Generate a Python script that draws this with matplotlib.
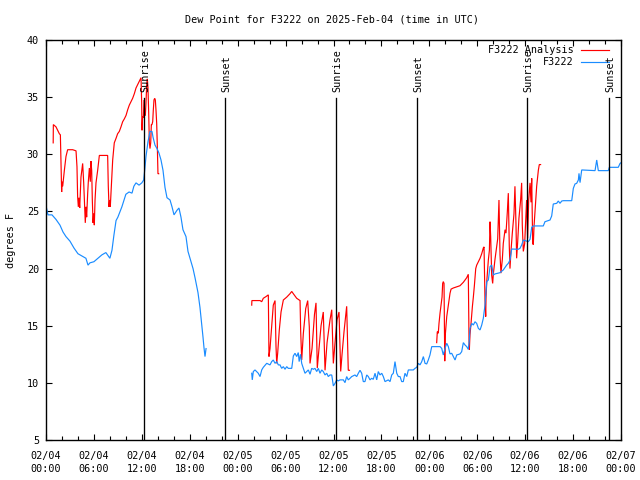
import numpy as np
import matplotlib
matplotlib.use("Agg")
import matplotlib.pyplot as plt
from matplotlib.lines import Line2D

# ---------------- data (hours since 02/04 00:00 UTC, degrees F) ----------------
obs1_h = [0.0, 0.25, 0.75, 1.25, 1.75, 2.13, 2.5, 3.0, 3.5, 4.0, 4.5, 5.0, 5.26, 5.5, 6.0, 6.5,
          7.0, 7.5, 8.0, 8.26, 8.5, 8.77, 9.0, 9.27, 9.5, 9.77, 10.0, 10.4, 10.77, 11.0, 11.27,
          11.65, 12.0, 12.23, 12.36, 12.52, 12.77, 13.02, 13.27, 13.4, 13.65, 13.9, 14.15, 14.4,
          14.65, 14.9, 15.15, 15.53, 15.78, 16.03, 16.4, 16.65, 16.9, 17.15, 17.53, 17.78, 18.03,
          18.41, 18.66, 19.03, 19.28, 19.53, 19.66, 19.78, 19.91, 20.04]
obs1_v = [25.5, 24.7, 24.7, 24.3, 23.8, 23.2, 22.8, 22.4, 21.8, 21.3, 21.1, 20.9, 20.3, 20.5, 20.6, 20.9,
          21.2, 21.4, 20.9, 21.6, 22.9, 24.2, 24.5, 25.0, 25.4, 26.0, 26.5, 26.7, 26.6, 27.2, 27.5,
          27.3, 27.5, 27.75, 28.6, 29.8, 31.1, 32.0, 32.0, 31.5, 30.8, 30.5, 30.1, 29.5,
          28.6, 27.1, 26.2, 26.0, 25.4, 24.7, 25.1, 25.3, 24.5, 23.4, 22.8, 21.5, 20.9,
          20.0, 19.2, 17.9, 16.6, 14.9, 14.0, 13.1, 12.3, 13.0]

obs2_h = [25.76, 25.83, 25.96, 26.17, 26.58, 26.80, 27.01, 27.21, 27.64, 28.05, 28.26, 28.46, 28.68,
          28.89, 29.09, 29.30, 29.51, 29.72, 29.93, 30.14, 30.34, 30.77, 30.97, 31.18, 31.39, 31.59,
          31.70, 31.87, 32.02, 32.22, 32.43, 32.64, 32.85, 33.06, 33.27, 33.47, 33.68, 33.90, 34.10,
          34.31, 34.52, 34.72, 34.94, 35.15, 35.35, 35.56, 35.78, 35.98, 36.19, 36.40, 36.60, 36.81,
          37.23, 37.44, 37.65, 37.85, 38.07, 38.28, 38.69, 38.90, 39.11, 39.32, 39.53, 39.73, 39.94,
          40.16, 40.36, 40.57, 40.78, 40.98, 41.20, 41.41, 41.61, 41.82, 42.04, 42.24, 42.45, 42.86,
          43.08, 43.29, 43.49, 43.70, 43.92, 44.12, 44.33, 44.54, 44.74, 44.95, 45.17, 45.37, 45.99,
          46.21, 46.42, 46.62, 46.83, 47.05, 47.25, 47.46, 47.67, 47.87, 48.08, 48.30, 49.34, 49.55,
          49.75, 49.96, 50.18, 50.38, 50.59, 50.80, 51.00, 51.22, 51.43, 51.84, 52.05, 52.26, 52.47,
          52.68, 52.88, 53.01, 53.09, 53.31, 53.51, 53.72, 53.93, 54.14, 54.35, 54.56, 54.76, 54.97,
          55.19, 55.39, 55.60, 55.81, 56.01, 56.22, 56.85, 57.26, 57.69, 57.89, 58.10, 58.31, 59.14,
          59.35, 59.56, 59.77, 60.39, 60.61, 60.82, 61.02, 62.27, 62.48, 63.11, 63.32, 63.52, 63.95,
          64.15, 64.36, 64.58, 64.78, 65.83, 66.03, 66.24, 66.45, 66.66, 66.74, 66.87, 67.08, 68.75,
          68.96, 69.16, 70.41, 70.54, 71.66, 71.88, 72.0]
obs2_v = [10.84, 10.26, 10.99, 11.13, 10.84, 10.55, 11.13, 11.36, 11.71, 11.57, 11.86, 12.0, 11.71,
          11.86, 11.57, 11.57, 11.27, 11.42, 11.19, 11.42, 11.27, 11.27, 12.35, 12.59, 12.3, 12.65,
          11.86, 12.5, 11.7, 11.27, 10.84, 10.99, 11.13, 10.75, 11.27, 11.19, 11.27, 10.99, 11.27,
          10.84, 11.13, 10.99, 10.69, 10.84, 10.55, 10.69, 10.69, 9.73, 9.96, 10.26, 10.17, 10.26,
          10.26, 10.02, 10.55, 10.26, 10.4, 10.55, 10.69, 10.55, 10.84, 11.1, 10.84, 10.11, 10.11,
          10.69, 10.55, 10.26, 10.40, 10.31, 10.84, 10.26, 10.99, 10.69, 10.84, 10.55, 10.11, 10.26,
          10.11, 10.69, 10.84, 11.86, 10.84, 10.55, 10.55, 10.11, 10.11, 10.84, 10.55, 11.13, 11.13,
          11.27, 11.36, 11.71, 11.57, 11.86, 12.3, 11.71, 11.65, 12.0, 12.44, 13.17, 13.17, 13.02,
          12.44, 13.02, 13.46, 13.17, 12.53, 12.59, 12.3, 12.0, 12.44, 12.53, 12.73, 13.52, 13.31,
          13.17, 12.93, 13.75, 14.77, 15.2, 15.06, 15.35, 15.2, 14.77, 14.63, 15.06, 15.65, 16.81,
          18.86, 19.0, 20.17, 20.31, 19.44, 19.53, 19.64, 19.88, 20.31, 20.46, 20.75, 21.71, 21.69,
          21.77, 22.06, 22.5, 22.35, 22.56, 23.61, 23.73, 23.73, 24.1, 24.25, 24.6, 25.65, 25.71,
          25.91, 25.71, 25.91, 25.94, 25.94, 27.02, 27.4, 27.46, 27.75, 28.33, 27.52, 28.63, 28.57,
          29.5, 28.57, 28.57, 28.86, 28.86, 29.2, 29.26]

ana1_h = [0.90, 0.92, 1.25, 1.67, 1.80, 1.88, 1.96, 2.0, 2.09, 2.30, 2.50, 2.71, 3.34, 3.76, 3.88,
          3.96, 4.05, 4.13, 4.22, 4.30, 4.38, 4.59, 4.72, 4.80, 4.92, 5.01, 5.09, 5.22, 5.30, 5.43,
          5.55, 5.63, 5.72, 5.80, 5.89, 5.97, 6.05, 6.14, 6.26, 6.47, 6.68, 7.72, 7.80, 7.89, 7.97,
          8.05, 8.18, 8.35, 8.55, 8.77, 8.97, 9.18, 9.39, 9.60, 9.81, 10.02, 10.23, 10.43, 10.64,
          10.85, 11.06, 11.27, 11.48, 11.69, 11.90, 11.98, 12.02, 12.10, 12.19, 12.27, 12.36, 12.44,
          12.52, 12.61, 12.69, 12.77, 12.86, 12.94, 13.02, 13.11, 13.19, 13.27, 13.36, 13.44, 13.52,
          13.61, 13.69, 13.77, 13.86, 13.94, 14.02, 14.11]
ana1_v = [31.0, 32.6, 32.4, 31.8, 31.7, 29.2, 26.7, 27.6, 27.2, 28.6, 29.8, 30.4, 30.4, 30.3, 28.9,
          26.3, 25.4, 26.2, 25.3, 26.6, 28.0, 29.2, 27.5, 26.0, 24.0, 25.4, 24.5, 26.6, 27.6, 28.8,
          27.6, 29.4, 28.6, 26.0, 24.0, 24.8, 23.8, 26.0, 27.5, 28.6, 29.9, 29.9, 27.2, 25.4, 26.0,
          25.4, 27.2, 29.5, 31.0, 31.4, 31.8, 32.0, 32.4, 32.85, 33.1, 33.4, 33.9, 34.3, 34.6,
          34.9, 35.3, 35.8, 36.1, 36.4, 36.7, 34.5, 32.1, 33.3, 33.2, 34.75, 33.6, 33.4,
          34.5, 36.1, 36.6, 35.8, 33.6, 31.1, 30.5, 31.0, 32.6, 32.6, 32.85, 33.9, 34.75,
          34.9, 34.75, 33.9, 32.7, 30.7, 28.3, 28.3]

ana2_h = [25.76, 25.78, 26.80, 27.01, 27.21, 27.55, 27.84, 27.92, 28.05, 28.26, 28.46, 28.68, 28.80,
          28.89, 29.01, 29.21, 29.43, 29.72, 30.14, 30.55, 30.77, 30.97, 31.39, 31.81, 31.89, 32.02,
          32.22, 32.52, 32.77, 32.97, 33.06, 33.31, 33.62, 33.81, 33.97, 34.19, 34.44, 34.72, 34.94,
          35.19, 35.56, 35.78, 35.98, 36.19, 36.44, 36.69, 36.90, 37.07, 37.32, 37.65, 37.85, 38.00]
ana2_v = [16.8, 17.2, 17.2, 17.1, 17.4, 17.55, 17.7, 12.3, 13.0, 14.9, 16.8, 17.2, 13.2,
          11.7, 12.6, 14.6, 16.2, 17.25, 17.5, 17.8, 18.0, 17.8, 17.4, 17.2, 14.5, 12.0,
          14.3, 16.5, 17.2, 14.9, 11.7, 13.0, 16.0, 17.0, 11.3, 13.0, 15.0, 16.2, 11.1,
          13.5, 15.5, 16.4, 11.7, 13.5, 15.5, 16.2, 11.0, 12.5, 14.5, 16.7, 11.1, 11.1]

ana3_h = [48.92, 49.0, 49.12, 49.21, 49.34, 49.46, 49.59, 49.67, 49.75, 49.84, 49.93, 50.0, 50.18,
          50.38, 50.59, 50.72, 51.0, 51.43, 51.84, 52.26, 52.68, 52.88, 52.97, 53.01, 53.09, 53.22,
          53.39, 53.51, 53.64, 53.81, 53.93, 54.14, 54.35, 54.56, 54.76, 54.85, 54.97, 55.06, 55.10,
          55.19, 55.39, 55.52, 55.60, 55.68, 55.81, 55.93, 56.01, 56.22, 56.43, 56.56, 56.72, 56.85,
          56.97, 57.14, 57.26, 57.48, 57.60, 57.77, 57.89, 58.01, 58.10, 58.22, 58.39, 58.60, 58.72,
          58.85, 58.93, 59.06, 59.22, 59.43, 59.56, 59.64, 59.77, 59.94, 60.02, 60.10, 60.18, 60.31,
          60.44, 60.61, 60.73, 60.82, 60.94, 61.02, 61.11, 61.23, 61.36, 61.44, 61.65, 61.77, 61.93]
ana3_v = [13.52, 14.48, 14.34, 15.2, 16.1, 16.8, 17.5, 18.7, 18.86, 18.7, 11.9, 14.2, 15.8,
          16.8, 17.84, 18.2, 18.3, 18.4, 18.5, 18.8, 19.2, 19.5, 13.7, 12.9, 14.2, 15.2,
          16.67, 17.5, 18.5, 20.0, 20.3, 20.6, 20.9, 21.3, 21.8, 21.9, 17.25, 15.8, 17.5,
          18.86, 20.75, 21.6, 24.1, 22.8, 19.4, 18.7, 19.5, 20.8, 21.9, 22.6, 26.0, 21.2,
          19.6, 20.8, 22.2, 23.4, 23.1, 25.0, 26.6, 22.0, 20.0, 21.5, 23.1, 24.8, 27.2,
          23.9, 20.9, 22.3, 24.4, 26.0, 27.5, 23.8, 21.5, 22.2, 23.4, 24.6, 26.0, 22.65,
          26.0, 27.5, 25.8, 27.9, 22.2, 22.1, 23.7, 25.0, 26.3, 27.2, 28.6, 29.1, 29.1]

sun_events = [("Sunrise", 12.31), ("Sunset", 22.41), ("Sunrise", 36.35),
              ("Sunset", 46.46), ("Sunrise", 60.23), ("Sunset", 70.5)]

xtick_hours = list(range(0, 73, 6))
xtick_labels = ["02/04\n00:00", "02/04\n06:00", "02/04\n12:00", "02/04\n18:00",
                "02/05\n00:00", "02/05\n06:00", "02/05\n12:00", "02/05\n18:00",
                "02/06\n00:00", "02/06\n06:00", "02/06\n12:00", "02/06\n18:00",
                "02/07\n00:00"]
ytick_vals = [5, 10, 15, 20, 25, 30, 35, 40]

title = "Dew Point for F3222 on 2025-Feb-04 (time in UTC)"
ylabel = "degrees F"
series_names = ["F3222 Analysis", "F3222"]

# ---------------- drawing ----------------
FONT = "DejaVu Sans Mono"
FS = 7.3
RED = "#ff0000"
BLUE = "#1a8cff"
LW = 0.85

def join(segs):
    hs, vs = [], []
    for h, v in segs:
        if hs:
            hs.append(np.nan); vs.append(np.nan)
        hs.extend(h); vs.extend(v)
    return np.array(hs), np.array(vs)

ana_h, ana_v = join([(ana1_h, ana1_v), (ana2_h, ana2_v), (ana3_h, ana3_v)])
obs_h, obs_v = join([(obs1_h, obs1_v), (obs2_h, obs2_v)])

fig = plt.figure(figsize=(6.4, 4.8), dpi=100)
ax = fig.add_axes([46/640, 40/480, 575/640, 400/480])

ax.plot(ana_h, ana_v, color=RED, lw=LW, solid_joinstyle="miter")
ax.plot(obs_h, obs_v, color=BLUE, lw=LW, solid_joinstyle="miter")

for name, h in sun_events:
    ax.plot([h, h], [5, 34.9], color="black", lw=LW + 0.1)
    ax.text(h + 0.15, 35.45, name, rotation=90, ha="center", va="bottom",
            fontsize=FS, family=FONT)

ax.set_xlim(0, 72)
ax.set_ylim(5, 40)
ax.set_xticks(xtick_hours)
ax.set_xticklabels(xtick_labels, fontsize=FS, family=FONT, linespacing=1.3)
ax.set_xticks(np.arange(0, 73, 2), minor=True)
ax.set_yticks(ytick_vals)
ax.set_yticklabels([str(v) for v in ytick_vals], fontsize=FS, family=FONT)
ax.tick_params(axis="both", which="both", direction="in", top=True, right=True,
               width=0.8, color="black")
ax.tick_params(axis="both", which="major", length=4.5)
ax.tick_params(axis="both", which="minor", length=3)
ax.tick_params(axis="x", which="major", pad=8)
ax.tick_params(axis="y", which="major", pad=5)
for sp in ax.spines.values():
    sp.set_linewidth(1.0)

fig.text(332/640, 1 - 19/480, title, ha="center", va="center", fontsize=FS, family=FONT)
fig.text(11/640, 0.5, ylabel, rotation=90, ha="center", va="center", fontsize=FS, family=FONT)

# key (legend)
for i, (name, col) in enumerate(zip(series_names, [RED, BLUE])):
    yy = (440 - 50 - 12.3 * i) / 400
    ax.text(0.918, yy, name, transform=ax.transAxes, ha="right", va="center",
            fontsize=FS, family=FONT)
    ax.add_line(Line2D([0.930, 0.979], [yy, yy], transform=ax.transAxes,
                       color=col, lw=LW))

fig.savefig("out.png", dpi=100)
